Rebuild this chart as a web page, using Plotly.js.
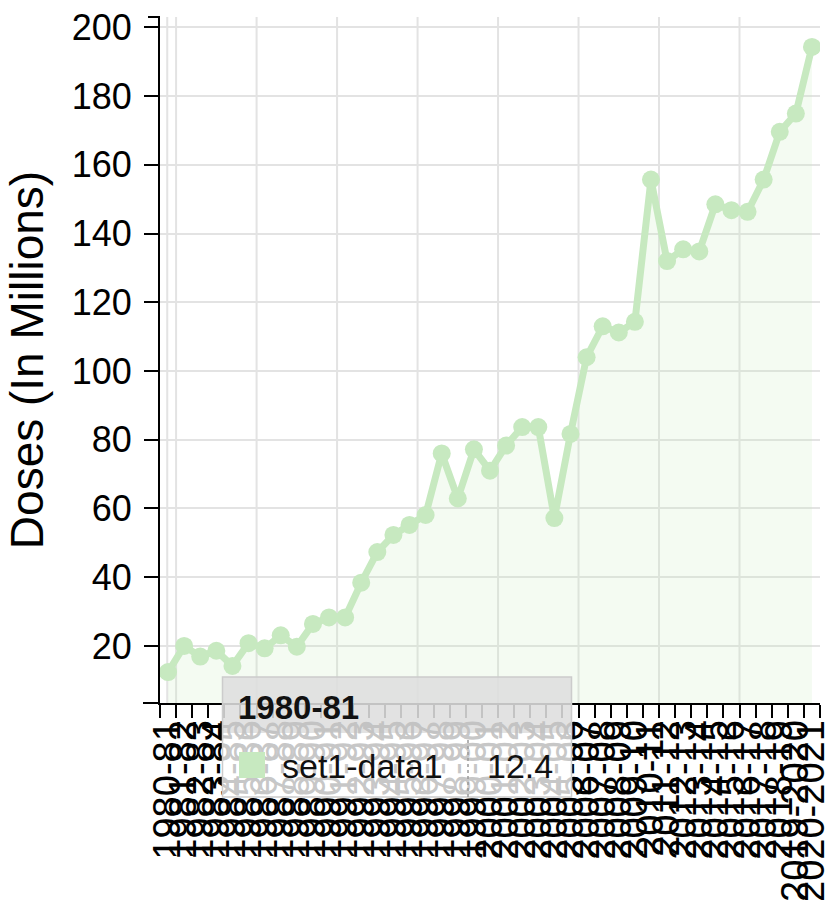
<!DOCTYPE html>
<html>
<head>
<meta charset="utf-8">
<script src="https://cdn.plot.ly/plotly-3.0.1.min.js"></script>
<style>
html,body{margin:0;padding:0;background:#fff;}
#chart{width:831px;height:907px;}
</style>
</head>
<body>
<div id="chart"></div>
<script>
// ---- data ----
const seasons = [
  "1980-81","1981-82","1982-83","1983-84","1984-85","1985-86","1986-87","1987-88",
  "1988-89","1989-90","1990-91","1991-92","1992-93","1993-94","1994-95","1995-96",
  "1996-97","1997-98","1998-99","1999-00","2000-01","2001-02","2002-03","2003-04",
  "2004-05","2005-06","2006-07","2007-08","2008-09","2009-10","2010-11","2011-12",
  "2012-13","2013-14","2014-15","2015-16","2016-17","2017-18","2018-19","2019-2020","2020-2021"
];
const doses = [
  12.4, 20.0, 16.9, 18.6, 14.2, 20.8, 19.3, 23.1, 19.8, 26.4,
  28.3, 28.3, 38.4, 47.3, 52.3, 55.2, 58.1, 76.0, 62.9, 77.2,
  71.0, 78.3, 83.7, 83.7, 57.2, 81.7, 104.0, 113.0, 111.2, 114.3,
  155.7, 132.0, 135.4, 134.8, 148.5, 146.8, 146.3, 155.7, 169.6, 174.9,
  194.3
];
const seriesName = "set1-data1";
const yTickVals = [20, 40, 60, 80, 100, 120, 140, 160, 180, 200];
const yTitle = "Doses (In Millions)";
const xGridAt = [-0.05, 0.5, 5.5, 10.5, 15.5, 20.5, 25.5, 30.5, 35.5];
const tooltipIndex = 0;

// ---- layout helpers (pixel -> paper) ----
const L = 160, R = 820, T = 17, B = 703;
const px = x => (x - L) / (R - L);
const py = y => (B - y) / (B - T);

const lineColor = "rgb(199,233,192)";
const fontFam = "Liberation Sans, Arial, Helvetica, sans-serif";

const trace = {
  type: "scatter",
  mode: "lines+markers",
  x: seasons,
  y: doses,
  name: seriesName,
  line: {color: lineColor, width: 7},
  marker: {color: lineColor, size: 18},
  fill: "tozeroy",
  fillcolor: "rgba(199,233,192,0.2)",
  hoverinfo: "skip",
  cliponaxis: true
};

const shapes = [];
xGridAt.forEach(g => shapes.push({
  type: "line", xref: "x", yref: "paper", x0: g, x1: g, y0: 0, y1: 1,
  line: {color: "#e3e3e3", width: 2}, layer: "below"
}));
// extra axis stubs (outer ticks)
shapes.push({type:"line", xref:"paper", yref:"paper", x0: px(143), x1: 0, y0: 0, y1: 0, line:{color:"#000", width:2}});
shapes.push({type:"line", xref:"paper", yref:"paper", x0: px(148), x1: 0, y0: 1, y1: 1, line:{color:"#000", width:2}});
// tooltip
shapes.push({type:"rect", xref:"paper", yref:"paper", x0: px(222.5), x1: px(571.5), y0: py(733), y1: py(677),
  fillcolor:"rgba(222,222,222,0.88)", line:{width:0}, layer:"above"});
shapes.push({type:"rect", xref:"paper", yref:"paper", x0: px(222.5), x1: px(571.5), y0: py(797), y1: py(733),
  fillcolor:"rgba(255,255,255,0.78)", line:{width:0}, layer:"above"});
shapes.push({type:"rect", xref:"paper", yref:"paper", x0: px(222.5), x1: px(571.5), y0: py(797), y1: py(677),
  fillcolor:"rgba(0,0,0,0)", line:{color:"#cccccc", width:1.5}, layer:"above"});
shapes.push({type:"rect", xref:"paper", yref:"paper", x0: px(239), x1: px(265), y0: py(778), y1: py(752),
  fillcolor: lineColor, line:{width:0}, layer:"above"});
shapes.push({type:"line", xref:"paper", yref:"paper", x0: px(468), x1: px(468), y0: py(797), y1: py(737),
  line:{color:"#999", width:1.5, dash:"dot"}, layer:"above"});

const annotations = [
  {xref:"paper", yref:"paper", x: px(236), y: py(707), xanchor:"left", yanchor:"middle",
   text: "<b>" + seasons[tooltipIndex] + "</b>", showarrow:false, font:{family:fontFam, size:33, color:"#111"}},
  {xref:"paper", yref:"paper", x: px(280), y: py(766), xanchor:"left", yanchor:"middle",
   text: seriesName, showarrow:false, font:{family:fontFam, size:34, color:"#111"}},
  {xref:"paper", yref:"paper", x: px(555), y: py(766), xanchor:"right", yanchor:"middle",
   text: String(doses[tooltipIndex]), showarrow:false, font:{family:fontFam, size:34, color:"#111"}}
];

const layout = {
  width: 831, height: 907,
  margin: {l: L, r: 831 - R, t: T, b: 907 - B, pad: 0},
  paper_bgcolor: "#fff", plot_bgcolor: "#fff",
  showlegend: false,
  font: {family: fontFam, color: "#000"},
  xaxis: {
    type: "category",
    range: [-0.5, seasons.length - 0.5],
    tickmode: "linear", dtick: 1,
    tickson: "boundaries",
    ticks: "outside", ticklen: 13, tickwidth: 2, tickcolor: "#000",
    tickangle: -90,
    tickfont: {family: fontFam, size: 38, color: "#000"},
    showgrid: false, zeroline: false,
    showline: true, linecolor: "#000", linewidth: 2,
    automargin: false, fixedrange: true
  },
  yaxis: {
    range: [3.4, 203],
    tickmode: "array", tickvals: yTickVals,
    ticks: "outside", ticklen: 14, tickwidth: 2, tickcolor: "#000",
    ticklabelstandoff: 5,
    tickfont: {family: fontFam, size: 36, color: "#000"},
    showgrid: true, gridcolor: "#e3e3e3", gridwidth: 2,
    zeroline: false,
    showline: true, linecolor: "#000", linewidth: 2,
    title: {text: yTitle, font: {family: fontFam, size: 46, color: "#000"}, standoff: 14},
    automargin: false, fixedrange: true
  },
  shapes: shapes,
  annotations: annotations
};

Plotly.newPlot("chart", [trace], layout, {displayModeBar: false, staticPlot: true});
</script>
</body>
</html>
